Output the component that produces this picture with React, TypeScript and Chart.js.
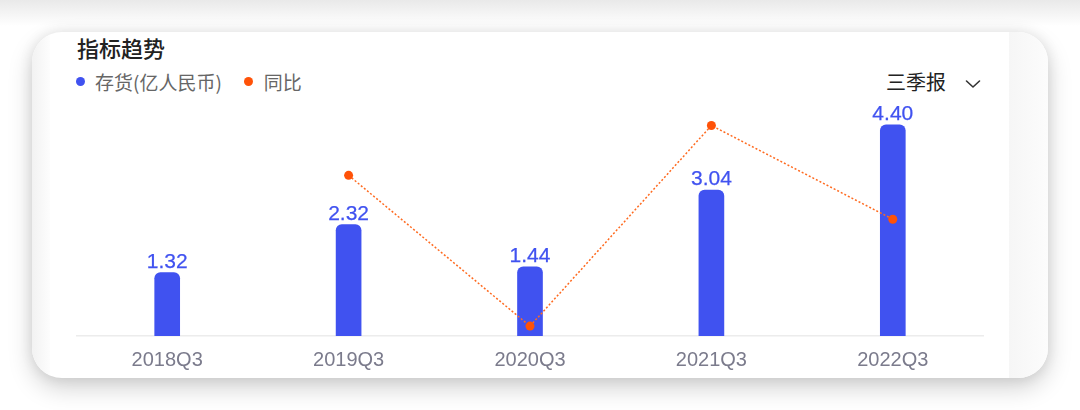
import React, { useEffect, useRef } from "react";
import { Chart, registerables } from "chart.js";

Chart.register(...registerables);

const categories = ["2018Q3", "2019Q3", "2020Q3", "2021Q3", "2022Q3"];
const inventory = [1.32, 2.32, 1.44, 3.04, 4.4];
const yoy = [null, 75.8, -31, 111.1, 44.7];
const seriesNames = ["存货(亿人民币)", "同比"];

const BLUE = "#4052f0";
const ORANGE = "#ff5208";

const barLabelPlugin = {
  id: "barLabels",
  afterDatasetsDraw(chart: any) {
    const meta = chart.getDatasetMeta(0);
    const ctx = chart.ctx;
    ctx.save();
    ctx.font = "21px 'Liberation Sans', Arial, sans-serif";
    ctx.fillStyle = BLUE;
    ctx.strokeStyle = BLUE;
    ctx.lineWidth = 0.25;
    ctx.textAlign = "center";
    ctx.textBaseline = "alphabetic";
    meta.data.forEach((el: any, i: number) => {
      const t = inventory[i].toFixed(2);
      ctx.fillText(t, el.x, el.y - 5);
      ctx.strokeText(t, el.x, el.y - 5);
    });
    ctx.restore();
  },
};

export default function App() {
  const canvasRef = useRef<HTMLCanvasElement | null>(null);

  useEffect(() => {
    if (!canvasRef.current) return;
    const chart = new Chart(canvasRef.current, {
      type: "bar",
      data: {
        labels: categories,
        datasets: [
          {
            type: "bar",
            label: seriesNames[0],
            data: inventory,
            backgroundColor: BLUE,
            barThickness: 25,
            borderRadius: { topLeft: 6, topRight: 6, bottomLeft: 0, bottomRight: 0 },
            borderSkipped: "bottom",
            yAxisID: "y",
            order: 2,
          },
          {
            type: "line",
            label: seriesNames[1],
            data: yoy,
            borderColor: "#ff6a1f",
            borderWidth: 1.5,
            borderDash: [2, 2],
            pointRadius: 4.5,
            pointHoverRadius: 4.5,
            pointBackgroundColor: ORANGE,
            pointBorderWidth: 0,
            yAxisID: "y1",
            order: 1,
          } as any,
        ],
      },
      options: {
        animation: false,
        responsive: false,
        maintainAspectRatio: false,
        layout: { padding: { left: 76.5, right: 96.5, top: 96, bottom: 26 } },
        plugins: {
          legend: { display: false },
          tooltip: { enabled: false },
          title: { display: false },
        },
        scales: {
          x: {
            offset: true,
            grid: { display: false, drawTicks: false },
            border: { display: true, color: "#ececec", width: 1.5 },
            ticks: {
              color: "#7b7b8c",
              padding: 12,
              font: { family: "'Liberation Sans', Arial, sans-serif", size: 20 },
            },
          },
          y: {
            display: false,
            min: 0,
            max: 5,
          },
          y1: {
            display: false,
            min: -38,
            max: 132,
          },
        },
      },
      plugins: [barLabelPlugin],
    });
    return () => chart.destroy();
  }, []);

  const cjk = "'Noto Sans CJK SC', 'Noto Sans', sans-serif";

  return (
    <div
      style={{
        position: "fixed",
        left: 0,
        top: 0,
        width: 1080,
        height: 410,
        overflow: "hidden",
        background: "linear-gradient(to bottom, #e9e9e9 0px, #ffffff 26px)",
      }}
    >
      <div
        style={{
          position: "absolute",
          left: 32,
          top: 32,
          width: 1016,
          height: 346,
          borderRadius: 30,
          background: "#ffffff",
          overflow: "hidden",
          boxShadow: "0 10px 24px rgba(0,0,0,0.18), 0 0 14px rgba(0,0,0,0.09)",
        }}
      >
        <div
          style={{
            position: "absolute",
            left: 0,
            top: 0,
            width: 18,
            height: 346,
            background: "linear-gradient(to right, #f2f2f2, #fdfdfd)",
          }}
        />
        <div
          style={{
            position: "absolute",
            left: 977,
            top: 0,
            width: 39,
            height: 346,
            background: "linear-gradient(to right, #f6f6f6, #fcfcfc)",
          }}
        />
      </div>

      <div
        style={{
          position: "absolute",
          left: 77,
          top: 36,
          fontFamily: cjk,
          fontSize: 22,
          lineHeight: "22px",
          fontWeight: 500,
          color: "#222222",
          whiteSpace: "nowrap",
        }}
      >
        指标趋势
      </div>

      <div
        style={{
          position: "absolute",
          left: 76,
          top: 72,
          height: 19,
          display: "flex",
          alignItems: "center",
          fontFamily: cjk,
          fontSize: 19,
          lineHeight: "19px",
          color: "#666666",
          whiteSpace: "nowrap",
        }}
      >
        <span
          style={{
            display: "inline-block",
            width: 9,
            height: 9,
            borderRadius: "50%",
            background: BLUE,
            marginRight: 10,
          }}
        />
        <span>{seriesNames[0]}</span>
        <span
          style={{
            display: "inline-block",
            width: 9,
            height: 9,
            borderRadius: "50%",
            background: ORANGE,
            marginLeft: 22,
            marginRight: 11,
          }}
        />
        <span>{seriesNames[1]}</span>
      </div>

      <div
        style={{
          position: "absolute",
          left: 886,
          top: 72,
          fontFamily: cjk,
          fontSize: 20,
          lineHeight: "20px",
          color: "#222222",
          whiteSpace: "nowrap",
        }}
      >
        三季报
      </div>
      <svg
        style={{ position: "absolute", left: 964, top: 78 }}
        width={18}
        height={12}
        viewBox="0 0 18 12"
      >
        <polyline
          points="2.5,3 9,9 15.5,3"
          fill="none"
          stroke="#333333"
          strokeWidth={1.6}
          strokeLinecap="round"
          strokeLinejoin="round"
        />
      </svg>

      <canvas
        ref={canvasRef}
        width={1080}
        height={410}
        style={{ position: "absolute", left: 0, top: 0, width: 1080, height: 410 }}
      />
    </div>
  );
}
